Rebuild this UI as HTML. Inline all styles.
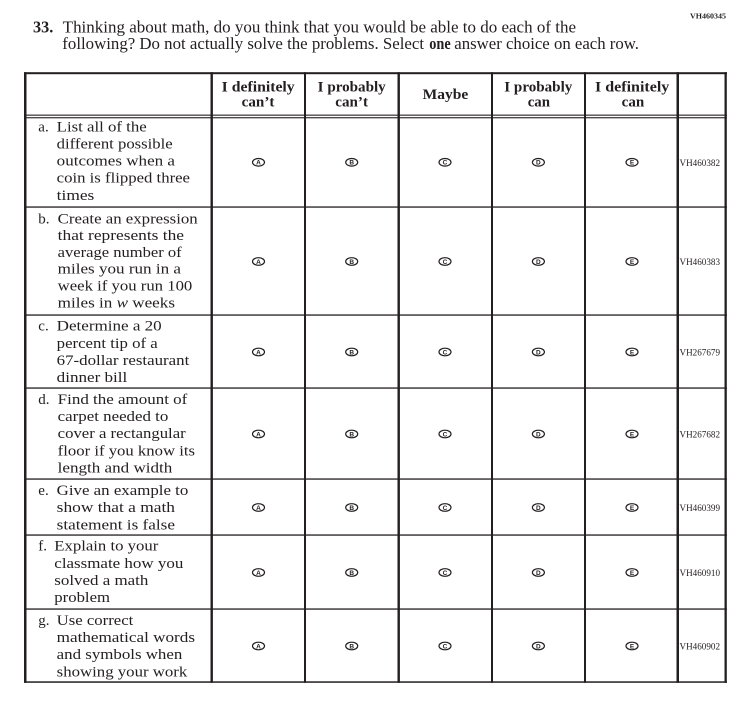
<!DOCTYPE html>
<html><head><meta charset="utf-8"><style>
html,body{margin:0;padding:0;background:#fff;}
svg{display:block;}
text{font-family:"Liberation Serif",serif;fill:#231f20;}
.t{font-size:15px;}
.h{font-size:15px;font-weight:bold;}
.b{font-family:"Liberation Sans",sans-serif;font-size:6.5px;font-weight:bold;text-anchor:middle;}
.c{font-size:9px;}
</style></head><body>
<svg width="752" height="718" viewBox="0 0 752 718" xmlns="http://www.w3.org/2000/svg">
<rect width="752" height="718" fill="#fff"/>
<!-- top code -->
<text x="690" y="18.3" font-size="7.5" font-weight="bold" textLength="36" lengthAdjust="spacingAndGlyphs">VH460345</text>
<!-- title -->
<text x="33" y="32.3" font-size="16.5" font-weight="bold" textLength="20.3" lengthAdjust="spacingAndGlyphs">33.</text>
<text x="62.7" y="32.3" font-size="16.5" textLength="513.3" lengthAdjust="spacingAndGlyphs">Thinking about math, do you think that you would be able to do each of the</text>
<text x="62.3" y="49" font-size="16.5" textLength="361.7" lengthAdjust="spacingAndGlyphs">following? Do not actually solve the problems. Select</text>
<text x="429.3" y="49" font-size="16.5" font-weight="bold" textLength="21.4" lengthAdjust="spacingAndGlyphs">one</text>
<text x="454.3" y="49" font-size="16.5" textLength="184.7" lengthAdjust="spacingAndGlyphs">answer choice on each row.</text>

<!-- table lines -->
<g fill="#231f20">
<rect x="24" y="72.2" width="703" height="2"/>
<rect x="24" y="114.6" width="703" height="1.1"/>
<rect x="24" y="117.2" width="703" height="1.1"/>
<rect x="24" y="206.4" width="703" height="1.3"/>
<rect x="24" y="314.4" width="703" height="1.3"/>
<rect x="24" y="387.4" width="703" height="1.3"/>
<rect x="24" y="478.4" width="703" height="1.3"/>
<rect x="24" y="534.4" width="703" height="1.3"/>
<rect x="24" y="608.4" width="703" height="1.3"/>
<rect x="24" y="681.3" width="703" height="1.5"/>
<rect x="24" y="72.2" width="2.5" height="610.6"/>
<rect x="210.5" y="72.2" width="2.4" height="610.6"/>
<rect x="304" y="72.2" width="2" height="610.6"/>
<rect x="397.5" y="72.2" width="2.4" height="610.6"/>
<rect x="491" y="72.2" width="2" height="610.6"/>
<rect x="584" y="72.2" width="2" height="610.6"/>
<rect x="676.5" y="72.2" width="2.5" height="610.6"/>
<rect x="724.5" y="72.2" width="2.3" height="610.6"/>
</g>

<!-- header -->
<text class="h" x="221.7" y="91.7" textLength="73" lengthAdjust="spacingAndGlyphs">I definitely</text>
<text class="h" x="241.7" y="106.5" textLength="32.7" lengthAdjust="spacingAndGlyphs">can’t</text>
<text class="h" x="317.7" y="91.7" textLength="68" lengthAdjust="spacingAndGlyphs">I probably</text>
<text class="h" x="335.3" y="106.5" textLength="32.7" lengthAdjust="spacingAndGlyphs">can’t</text>
<text class="h" x="422.7" y="99" textLength="45.6" lengthAdjust="spacingAndGlyphs">Maybe</text>
<text class="h" x="504.3" y="91.7" textLength="68" lengthAdjust="spacingAndGlyphs">I probably</text>
<text class="h" x="527.7" y="106.5" textLength="22.3" lengthAdjust="spacingAndGlyphs">can</text>
<text class="h" x="595" y="91.7" textLength="74.3" lengthAdjust="spacingAndGlyphs">I definitely</text>
<text class="h" x="621.7" y="106.5" textLength="22.6" lengthAdjust="spacingAndGlyphs">can</text>

<!-- row a -->
<text class="t" x="38.3" y="131.5">a.</text>
<text class="t" x="56.7" y="131.5" textLength="90" lengthAdjust="spacingAndGlyphs">List all of the</text>
<text class="t" x="56.7" y="148.5" textLength="116" lengthAdjust="spacingAndGlyphs">different possible</text>
<text class="t" x="56.7" y="165.5" textLength="118.3" lengthAdjust="spacingAndGlyphs">outcomes when a</text>
<text class="t" x="56.7" y="182.6" textLength="133.3" lengthAdjust="spacingAndGlyphs">coin is flipped three</text>
<text class="t" x="56.7" y="199.8" textLength="37.6" lengthAdjust="spacingAndGlyphs">times</text>

<!-- row b -->
<text class="t" x="38.3" y="223.3">b.</text>
<text class="t" x="57.7" y="223.3" textLength="140" lengthAdjust="spacingAndGlyphs">Create an expression</text>
<text class="t" x="57.7" y="240.1" textLength="126.3" lengthAdjust="spacingAndGlyphs">that represents the</text>
<text class="t" x="57.7" y="256.9" textLength="124" lengthAdjust="spacingAndGlyphs">average number of</text>
<text class="t" x="57.7" y="273.7" textLength="123.3" lengthAdjust="spacingAndGlyphs">miles you run in a</text>
<text class="t" x="57.7" y="290.5" textLength="134.6" lengthAdjust="spacingAndGlyphs">week if you run 100</text>
<text class="t" x="57.7" y="307.3" textLength="117.3" lengthAdjust="spacingAndGlyphs">miles in <tspan font-style="italic">w</tspan> weeks</text>

<!-- row c -->
<text class="t" x="38.3" y="330.7">c.</text>
<text class="t" x="56.7" y="330.7" textLength="105" lengthAdjust="spacingAndGlyphs">Determine a 20</text>
<text class="t" x="56.7" y="347.8" textLength="101" lengthAdjust="spacingAndGlyphs">percent tip of a</text>
<text class="t" x="56.7" y="364.9" textLength="132.6" lengthAdjust="spacingAndGlyphs">67-dollar restaurant</text>
<text class="t" x="56.7" y="382" textLength="70.6" lengthAdjust="spacingAndGlyphs">dinner bill</text>

<!-- row d -->
<text class="t" x="38.3" y="404">d.</text>
<text class="t" x="57.7" y="404" textLength="129.6" lengthAdjust="spacingAndGlyphs">Find the amount of</text>
<text class="t" x="57.7" y="421.1" textLength="110.6" lengthAdjust="spacingAndGlyphs">carpet needed to</text>
<text class="t" x="57.7" y="438.2" textLength="128" lengthAdjust="spacingAndGlyphs">cover a rectangular</text>
<text class="t" x="57.7" y="455.3" textLength="137.3" lengthAdjust="spacingAndGlyphs">floor if you know its</text>
<text class="t" x="57.7" y="472.4" textLength="114.6" lengthAdjust="spacingAndGlyphs">length and width</text>

<!-- row e -->
<text class="t" x="38.3" y="495">e.</text>
<text class="t" x="56.7" y="495" textLength="131.6" lengthAdjust="spacingAndGlyphs">Give an example to</text>
<text class="t" x="56.7" y="512.1" textLength="118.3" lengthAdjust="spacingAndGlyphs">show that a math</text>
<text class="t" x="56.7" y="529.3" textLength="118.3" lengthAdjust="spacingAndGlyphs">statement is false</text>

<!-- row f -->
<text class="t" x="38.3" y="550.7">f.</text>
<text class="t" x="54.3" y="550.7" textLength="104" lengthAdjust="spacingAndGlyphs">Explain to your</text>
<text class="t" x="54.3" y="567.8" textLength="129" lengthAdjust="spacingAndGlyphs">classmate how you</text>
<text class="t" x="54.3" y="584.9" textLength="94" lengthAdjust="spacingAndGlyphs">solved a math</text>
<text class="t" x="54.3" y="602" textLength="55.7" lengthAdjust="spacingAndGlyphs">problem</text>

<!-- row g -->
<text class="t" x="38.3" y="625">g.</text>
<text class="t" x="56.7" y="625" textLength="76.6" lengthAdjust="spacingAndGlyphs">Use correct</text>
<text class="t" x="56.7" y="642.1" textLength="138.3" lengthAdjust="spacingAndGlyphs">mathematical words</text>
<text class="t" x="56.7" y="659.2" textLength="125.6" lengthAdjust="spacingAndGlyphs">and symbols when</text>
<text class="t" x="56.7" y="676.3" textLength="130.6" lengthAdjust="spacingAndGlyphs">showing your work</text>

<!-- bubbles -->
<defs>
<g id="bA"><ellipse cx="0" cy="0" rx="6" ry="3.8" fill="none" stroke="#231f20" stroke-width="1.2"/><text class="b" x="0" y="2.3">A</text></g>
<g id="bB"><ellipse cx="0" cy="0" rx="6" ry="3.8" fill="none" stroke="#231f20" stroke-width="1.2"/><text class="b" x="0" y="2.3">B</text></g>
<g id="bC"><ellipse cx="0" cy="0" rx="6" ry="3.8" fill="none" stroke="#231f20" stroke-width="1.2"/><text class="b" x="0" y="2.3">C</text></g>
<g id="bD"><ellipse cx="0" cy="0" rx="6" ry="3.8" fill="none" stroke="#231f20" stroke-width="1.2"/><text class="b" x="0" y="2.3">D</text></g>
<g id="bE"><ellipse cx="0" cy="0" rx="6" ry="3.8" fill="none" stroke="#231f20" stroke-width="1.2"/><text class="b" x="0" y="2.3">E</text></g>
</defs>

<g transform="translate(0,162.3)">
<use href="#bA" x="258.5"/><use href="#bB" x="351.7"/><use href="#bC" x="445"/><use href="#bD" x="538.4"/><use href="#bE" x="632"/>
<text class="c" x="679.5" y="3.5" textLength="40.5" lengthAdjust="spacingAndGlyphs">VH460382</text>
</g>
<g transform="translate(0,261.5)">
<use href="#bA" x="258.5"/><use href="#bB" x="351.7"/><use href="#bC" x="445"/><use href="#bD" x="538.4"/><use href="#bE" x="632"/>
<text class="c" x="679.5" y="3.5" textLength="40.5" lengthAdjust="spacingAndGlyphs">VH460383</text>
</g>
<g transform="translate(0,352)">
<use href="#bA" x="258.5"/><use href="#bB" x="351.7"/><use href="#bC" x="445"/><use href="#bD" x="538.4"/><use href="#bE" x="632"/>
<text class="c" x="679.5" y="3.5" textLength="40.5" lengthAdjust="spacingAndGlyphs">VH267679</text>
</g>
<g transform="translate(0,434)">
<use href="#bA" x="258.5"/><use href="#bB" x="351.7"/><use href="#bC" x="445"/><use href="#bD" x="538.4"/><use href="#bE" x="632"/>
<text class="c" x="679.5" y="3.5" textLength="40.5" lengthAdjust="spacingAndGlyphs">VH267682</text>
</g>
<g transform="translate(0,507.5)">
<use href="#bA" x="258.5"/><use href="#bB" x="351.7"/><use href="#bC" x="445"/><use href="#bD" x="538.4"/><use href="#bE" x="632"/>
<text class="c" x="679.5" y="3.5" textLength="40.5" lengthAdjust="spacingAndGlyphs">VH460399</text>
</g>
<g transform="translate(0,572.5)">
<use href="#bA" x="258.5"/><use href="#bB" x="351.7"/><use href="#bC" x="445"/><use href="#bD" x="538.4"/><use href="#bE" x="632"/>
<text class="c" x="679.5" y="3.5" textLength="40.5" lengthAdjust="spacingAndGlyphs">VH460910</text>
</g>
<g transform="translate(0,646)">
<use href="#bA" x="258.5"/><use href="#bB" x="351.7"/><use href="#bC" x="445"/><use href="#bD" x="538.4"/><use href="#bE" x="632"/>
<text class="c" x="679.5" y="3.5" textLength="40.5" lengthAdjust="spacingAndGlyphs">VH460902</text>
</g>
</svg>
</body></html>
